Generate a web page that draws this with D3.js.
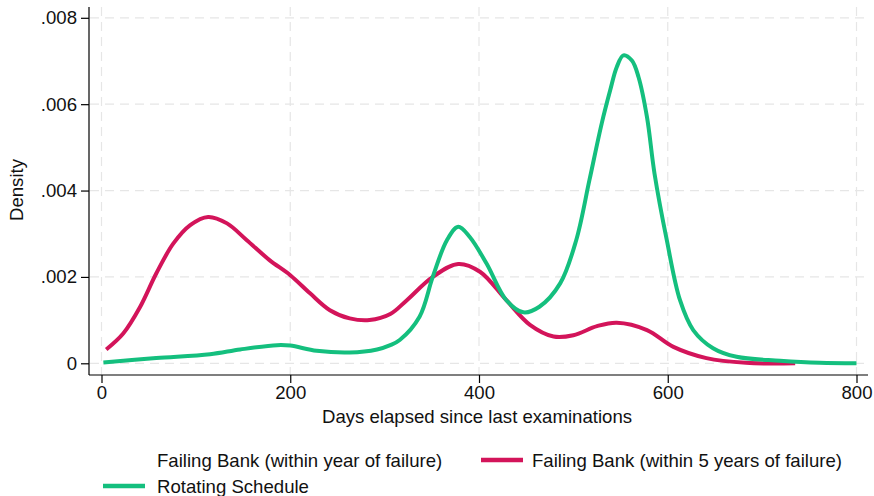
<!DOCTYPE html>
<html>
<head>
<meta charset="utf-8">
<script src="https://cdn.jsdelivr.net/npm/d3@7"></script>
<style>
  html, body { margin: 0; padding: 0; background: #fff; }
  svg { display: block; font-family: "Liberation Sans", Arial, Helvetica, sans-serif; }
</style>
</head>
<body>
<svg id="chart" width="874" height="496"></svg>
<script>
// Kernel density estimates of days elapsed since the last examination.
const withinYearDays = [];
const withinYearDensity = [];

const within5Days = [5, 23, 41, 58, 76, 94, 113, 133, 154, 178, 200, 221, 242, 263, 284, 306, 323, 351, 378, 401, 429, 454, 479, 500, 525, 546, 578, 606, 641, 683, 735];
const within5Density = [0.00032, 0.00069, 0.00131, 0.00208, 0.00277, 0.00320, 0.00339, 0.00324, 0.00285, 0.00239, 0.00204, 0.00162, 0.00123, 0.00104, 0.00100, 0.00114, 0.00145, 0.00200, 0.00230, 0.00212, 0.00146, 0.00089, 0.00062, 0.00065, 0.00086, 0.00094, 0.00077, 0.00038, 0.00012, 0.00001, 0.0];

const rotatingDays = [2, 58, 115, 147, 186, 200, 228, 263, 292, 306, 316, 337, 351, 366, 378, 390, 408, 429, 447, 464, 486, 503, 517, 530, 539, 546, 553, 562, 569, 578, 586, 599, 613, 627, 648, 673, 719, 761, 800];
const rotatingDensity = [0.00002, 0.00012, 0.00021, 0.00032, 0.00042, 0.00041, 0.00029, 0.00025, 0.00032, 0.00042, 0.00054, 0.00108, 0.00200, 0.00285, 0.00316, 0.00293, 0.00231, 0.00146, 0.00118, 0.00131, 0.00185, 0.00285, 0.00424, 0.00555, 0.00632, 0.00686, 0.00713, 0.00701, 0.00663, 0.00570, 0.00439, 0.00285, 0.00146, 0.00077, 0.00035, 0.00015, 0.00006, 0.00001, 0.0];

const xTicks = [0, 200, 400, 600, 800];
const yTicks = [0, 0.002, 0.004, 0.006, 0.008];
const yTickLabels = ["0", ".002", ".004", ".006", ".008"];

const seriesNames = ["Failing Bank (within year of failure)", "Failing Bank (within 5 years of failure)", "Rotating Schedule"];
const seriesColors = ["none", "#d3145a", "#14bf7e"];

const series = [
  { name: seriesNames[0], color: seriesColors[0], xs: withinYearDays, ys: withinYearDensity },
  { name: seriesNames[1], color: seriesColors[1], xs: within5Days, ys: within5Density },
  { name: seriesNames[2], color: seriesColors[2], xs: rotatingDays, ys: rotatingDensity }
];

const svg = d3.select("#chart");
const plot = { left: 89, right: 868, top: 7, bottom: 375 };

const x = d3.scaleLinear().domain([0, 800]).range([101.5, 856.5]);
const y = d3.scaleLinear().domain([0, 0.008]).range([363.3, 17.8]);

const fontSize = 18.6;
const textColor = "#111";

// Dashed grid
const grid = svg.append("g");
grid.selectAll("line.h").data(yTicks).join("line")
  .attr("x1", plot.left + 1).attr("x2", plot.right)
  .attr("y1", d => y(d)).attr("y2", d => y(d))
  .attr("stroke", "#e6e6e6").attr("stroke-width", 1.2).attr("stroke-dasharray", "9,6");
grid.selectAll("line.v").data(xTicks).join("line")
  .attr("y1", plot.top).attr("y2", plot.bottom)
  .attr("x1", d => x(d)).attr("x2", d => x(d))
  .attr("stroke", "#e6e6e6").attr("stroke-width", 1.2).attr("stroke-dasharray", "9,6");

// Density curves
const line = d3.line()
  .x(d => x(d[0])).y(d => y(d[1]))
  .curve(d3.curveCatmullRom.alpha(0.5));

svg.append("g").selectAll("path").data(series.filter(s => s.xs.length)).join("path")
  .attr("d", s => line(s.xs.map((v, i) => [v, s.ys[i]])))
  .attr("fill", "none")
  .attr("stroke", s => s.color)
  .attr("stroke-width", 4)
  .attr("stroke-linejoin", "round")
  .attr("stroke-linecap", "butt");

// Axes
const yAxis = d3.axisLeft(y).tickValues(yTicks)
  .tickFormat((d, i) => yTickLabels[i]).tickSize(8).tickPadding(4);
const gy = svg.append("g").attr("transform", `translate(${plot.left},0)`).call(yAxis);
gy.select(".domain").attr("d", `M0,${plot.top}V${plot.bottom}`);

const xAxis = d3.axisBottom(x).tickValues(xTicks).tickFormat(d3.format("d")).tickSize(8).tickPadding(3);
const gx = svg.append("g").attr("transform", `translate(0,${plot.bottom})`).call(xAxis);
gx.select(".domain").attr("d", `M${plot.left},0H${plot.right}`);

[gx, gy].forEach(g => {
  g.select(".domain").attr("stroke", "#000").attr("stroke-width", 1.2);
  g.selectAll(".tick line").attr("stroke", "#000").attr("stroke-width", 1.2);
  g.selectAll(".tick text").attr("font-size", fontSize).attr("fill", textColor)
    .attr("font-family", "Liberation Sans, Arial, sans-serif");
});

// Axis titles
svg.append("text")
  .attr("x", x(400) - 2).attr("y", 423)
  .attr("text-anchor", "middle").attr("font-size", fontSize).attr("fill", textColor)
  .text("Days elapsed since last examinations");

svg.append("text")
  .attr("transform", "translate(23,190) rotate(-90)")
  .attr("text-anchor", "middle").attr("font-size", fontSize).attr("fill", textColor)
  .text("Density");

// Legend
const legendItems = [
  { s: series[0], sx: 103, tx: 157, cy: 460 },
  { s: series[1], sx: 481, tx: 532, cy: 460 },
  { s: series[2], sx: 103, tx: 157, cy: 486 }
];
const lg = svg.append("g");
legendItems.forEach(it => {
  lg.append("line")
    .attr("x1", it.sx).attr("x2", it.sx + 42)
    .attr("y1", it.cy).attr("y2", it.cy)
    .attr("stroke", it.s.color).attr("stroke-width", 4.5);
  lg.append("text")
    .attr("x", it.tx).attr("y", it.cy + 6.5)
    .attr("font-size", fontSize).attr("fill", textColor)
    .text(it.s.name);
});
</script>
</body>
</html>
